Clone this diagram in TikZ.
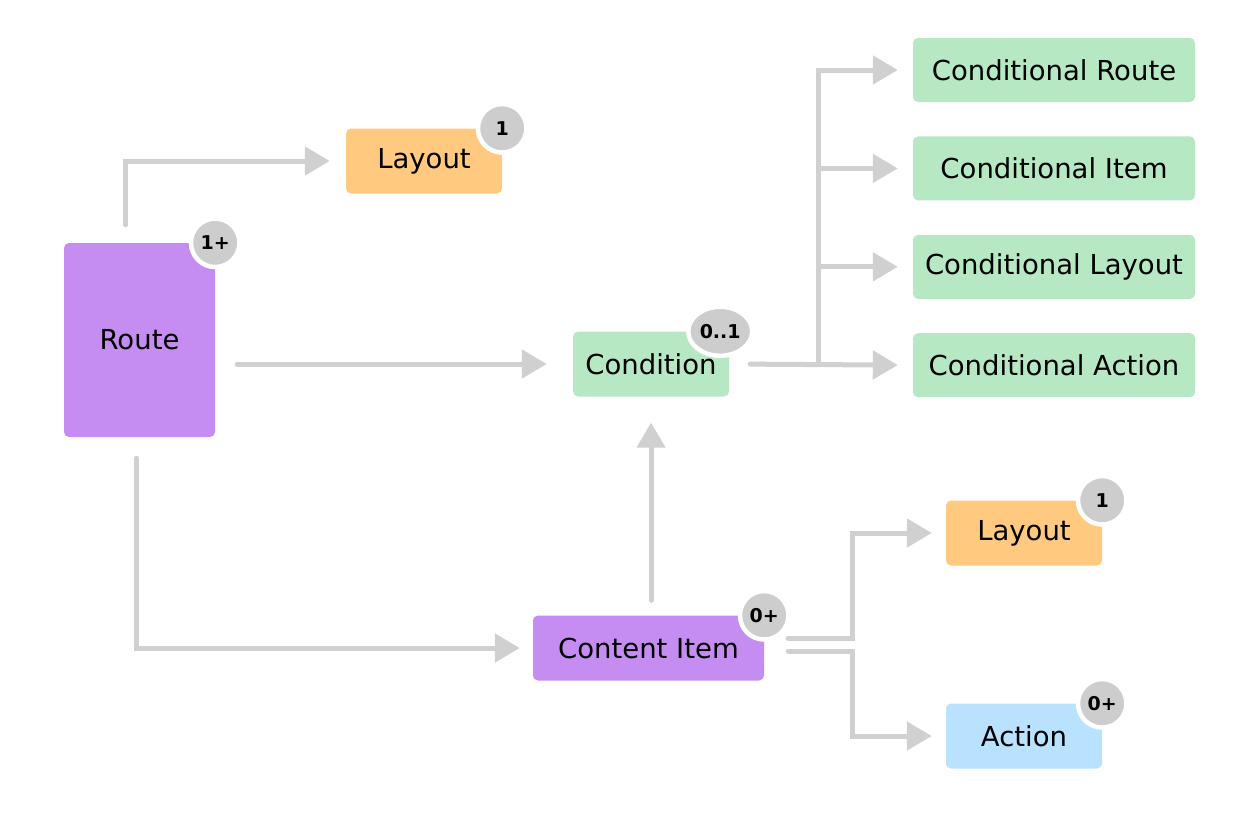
\documentclass[tikz,border=0pt]{standalone}
\usepackage{fontspec}
\setmainfont{DejaVu Sans}
\usetikzlibrary{arrows.meta,positioning,shapes.geometric}
\definecolor{itempurple}{RGB}{197,140,242}
\definecolor{layoutorange}{RGB}{255,202,128}
\definecolor{condgreen}{RGB}{183,232,196}
\definecolor{actionblue}{RGB}{184,226,253}
\definecolor{badgegrey}{RGB}{205,205,205}
\definecolor{linegrey}{RGB}{208,208,208}

\begin{document}
\begin{tikzpicture}[
    x=1pt, y=-1pt,
    node distance=34pt,
    box/.style={rectangle, rounded corners=5pt, minimum height=65pt, text centered, inner sep=0pt, font=\fontsize{27.5}{32}\selectfont},
    item/.style={box, fill=itempurple},
    layout/.style={box, fill=layoutorange, minimum width=156pt},
    cond/.style={box, fill=condgreen, minimum width=156pt},
    condout/.style={box, fill=condgreen, minimum width=282pt, minimum height=64pt},
    action/.style={box, fill=actionblue, minimum width=156pt},
    badge/.style={circle, fill=badgegrey, draw=white, line width=4.5pt, minimum size=48.5pt, inner sep=0pt, font=\fontsize{19}{22}\selectfont\bfseries},
    arrow/.style={draw=linegrey, line width=5pt, line cap=round, -{Triangle[length=25pt,width=28pt]}}
]
\useasboundingbox (0,0) rectangle (1258,839);

% Route and its children
\node (route) [item, minimum width=151pt, minimum height=194pt] at (139.5,340) {Route};
\node (layout1) [layout] at (424,161) {Layout};
\node (cond) [cond] at (651,364) {Condition};
\node (content) [item, minimum width=231pt] at (648.5,648) {Content Item};

% Conditional targets
\node (croute) [condout] at (1054,70) {Conditional Route};
\node (citem) [condout, below=of croute] {Conditional Item};
\node (clayout) [condout, below=of citem] {Conditional Layout};
\node (cact) [condout, below=of clayout] {Conditional Action};

% Content item targets
\node (layout2) [layout] at (1024,533) {Layout};
\node (action) [action] at (1024,736) {Action};

% Arrows
\draw [arrow, shorten >=16pt] ([xshift=-14pt, yshift=18pt]route.north) |- (layout1.west);
\draw [arrow, shorten <=22pt, shorten >=26pt] (route.east |- cond.west) -- (cond.west);
\draw [arrow, shorten >=13pt] ([xshift=-3pt, yshift=-21pt]route.south) |- (content.west);
\draw [arrow, shorten <=15pt, shorten >=26pt] (content.north -| cond.south) -- (cond.south);

\draw [arrow, shorten <=21pt, shorten >=15pt] (cond.east) -- (cact.west);
\coordinate (split) at (818,364);
\foreach \n in {croute, citem, clayout}
    \draw [arrow, shorten >=15pt] (split) |- (\n.west);

\coordinate (fork) at (852,0);
\draw [arrow, shorten >=14pt] ([xshift=24pt, yshift=10pt]content.east) -| (fork |- layout2.west) -- (layout2.west);
\draw [arrow, shorten >=14pt] ([xshift=24pt, yshift=-3pt]content.east) -| (fork |- action.west) -- (action.west);

% Badges
\node (routeb) [badge] at (route.north east) {1+};
\node (layout1b) [badge] at (layout1.north east) {1};
\node (condb) [badge, ellipse, minimum width=64pt, minimum height=49pt] at ([xshift=-9pt]cond.north east) {0..1};
\node (contentb) [badge] at (content.north east) {0+};
\node (layout2b) [badge] at (layout2.north east) {1};
\node (actionb) [badge] at (action.north east) {0+};

\end{tikzpicture}
\end{document}
